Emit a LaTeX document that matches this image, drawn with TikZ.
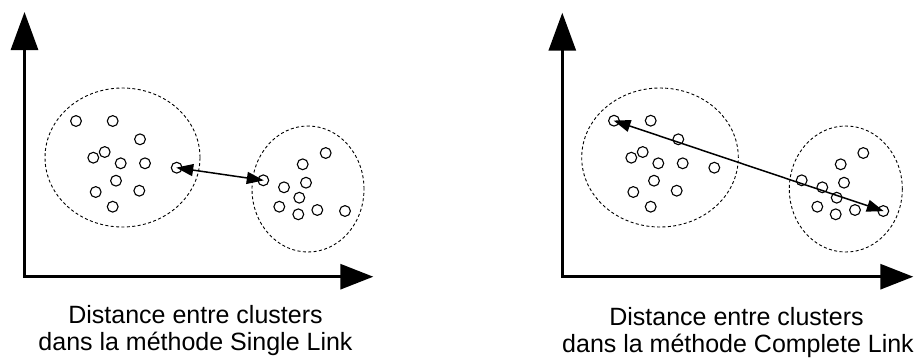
\documentclass[tikz,border=0pt]{standalone}
\usepackage{fontspec}
\setmainfont{Liberation Sans}
\usetikzlibrary{arrows.meta,shapes.geometric}
\tikzset{
  pt/.style={circle, draw, line width=1.1pt, minimum size=10.8pt, inner sep=0pt},
  cluster/.style={ellipse, draw, line width=0.9pt, dash pattern=on 3pt off 2.4pt, inner sep=0pt},
  axes/.style={line width=3pt, arrows={Triangle[length=38pt,width=27pt]-Triangle[length=33pt,width=25pt]}},
  link/.style={line width=1.5pt, arrows={Triangle[length=17pt,width=12pt]-Triangle[length=17pt,width=12pt]}, shorten <=-0.5pt, shorten >=-0.5pt},
  caption/.style={anchor=base, inner sep=0pt, font=\fontsize{25}{27}\selectfont}
}
\begin{document}
\begin{tikzpicture}[x=1pt,y=-1pt]
\useasboundingbox (0,0) rectangle (917,360);

% ---------- Left panel: Single Link ----------
\coordinate (ay1) at (24.5,12);
\coordinate (o1) at (24.5,276.7);
\coordinate (ax1) at (373.3,276.7);
\draw[axes] (ay1) -- (o1) -- (ax1);

\node[cluster, minimum width=155pt, minimum height=139pt] (ca1) at (122.5,157.5) {};
\node[cluster, minimum width=112pt, minimum height=126pt] (cb1) at (308,189) {};

\foreach \n/\x/\y in {1/76/121, 2/112.7/121, 3/140/139.3, 4/104.7/152, 5/93.3/157.7,
  6/120.7/163.3, 7/145/163.3, 8/176.7/167.7, 9/116/180.7, 10/95.7/192, 11/139.3/190.7, 12/112.7/206.7}
  \node[pt] (la\n) at (\x,\y) {};
\foreach \n/\x/\y in {1/263.3/180.3, 2/325.7/153, 3/302.7/164.3, 4/306/182.7, 5/284/187.3,
  6/299.3/197.7, 7/279.3/206.7, 8/298.3/214.3, 9/317.3/210, 10/345/211}
  \node[pt] (lb\n) at (\x,\y) {};

\draw[link] (la8.center) -- (lb1.center);

\node[caption] (t1a) at (195.5,323.3) {Distance entre clusters};
\node[caption] (t1b) at (195.5,350) {dans la méthode Single Link};

% ---------- Right panel: Complete Link ----------
\coordinate (ay2) at (562.3,12.7);
\coordinate (o2) at (562.3,276.7);
\coordinate (ax2) at (913.3,276.7);
\draw[axes] (ay2) -- (o2) -- (ax2);

\node[cluster, minimum width=156.6pt, minimum height=139pt] (ca2) at (660,157.5) {};
\node[cluster, minimum width=113pt, minimum height=126pt] (cb2) at (845.8,189) {};

\foreach \n/\x/\y in {1/614/120.7, 2/650.7/120.7, 3/678.3/139.3, 4/642.7/152, 5/631.3/157.7,
  6/658.3/163.3, 7/682.7/163.3, 8/714.3/167.7, 9/654/180.7, 10/633.3/192, 11/676.7/190.7, 12/650.7/206.7}
  \node[pt] (ra\n) at (\x,\y) {};
\foreach \n/\x/\y in {1/801.7/180.3, 2/863.3/153, 3/840.7/164.3, 4/844/182.7, 5/822.3/187.3,
  6/836.7/197.7, 7/817.3/206.7, 8/835.7/214.3, 9/855/210, 10/883.3/211}
  \node[pt] (rb\n) at (\x,\y) {};

\draw[link] (ra1.center) -- (rb10.center);

\node[caption] (t2a) at (736.5,325) {Distance entre clusters};
\node[caption] (t2b) at (738,352) {dans la méthode Complete Link};
\end{tikzpicture}
\end{document}
